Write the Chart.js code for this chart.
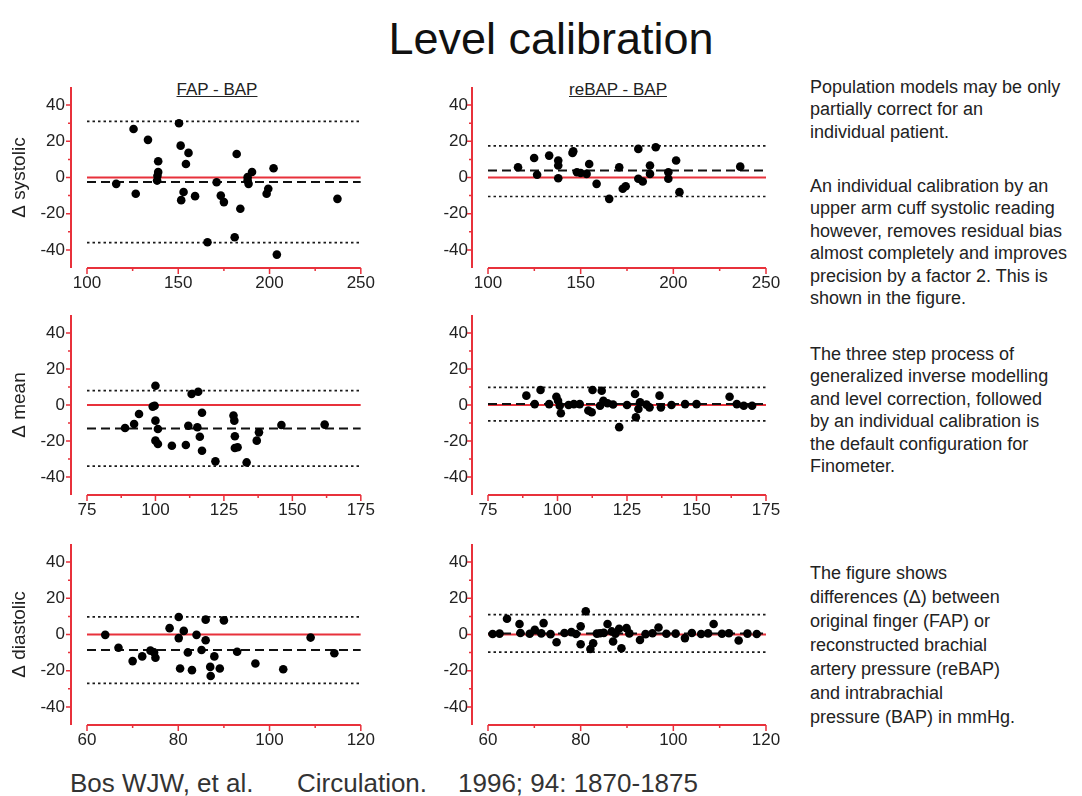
<!DOCTYPE html>
<html><head><meta charset="utf-8">
<script src="https://cdn.jsdelivr.net/npm/chart.js@4.4.1/dist/chart.umd.min.js"></script>
<style>
html,body{margin:0;padding:0;background:#fff;}
body{width:1082px;height:796px;position:relative;overflow:hidden;font-family:"Liberation Sans",Arial,sans-serif;color:#1a1a1a;}
canvas{position:absolute;}
.t{position:absolute;white-space:nowrap;line-height:1;}
.p{position:absolute;white-space:nowrap;left:810px;font-size:18px;line-height:22.5px;color:#222;}
</style></head><body>
<div class="t" style="left:0;width:1102px;text-align:center;top:16px;font-size:45px;color:#111;">Level calibration</div>
<div class="t" style="left:117px;width:200px;text-align:center;top:81px;font-size:17px;text-decoration:underline;color:#222;">FAP - BAP</div>
<div class="t" style="left:518px;width:200px;text-align:center;top:81px;font-size:17px;text-decoration:underline;color:#222;">reBAP - BAP</div>

<div class="p" style="top:75.5px;">Population models may be only<br>partially correct for an<br>individual patient.</div>
<div class="p" style="top:174.5px;">An individual calibration by an<br>upper arm cuff systolic reading<br>however, removes residual bias<br>almost completely and improves<br>precision by a factor 2. This is<br>shown in the figure.</div>
<div class="p" style="top:342.5px;">The three step process of<br>generalized inverse modelling<br>and level correction, followed<br>by an individual calibration is<br>the default configuration for<br>Finometer.</div>
<div class="p" style="top:561px;line-height:24px;">The figure shows<br>differences (Δ) between<br>original finger (FAP) or<br>reconstructed brachial<br>artery pressure (reBAP)<br>and intrabrachial<br>pressure (BAP) in mmHg.</div>

<div class="t" style="left:70px;top:770px;font-size:26px;color:#333;">Bos WJW, et al.</div>
<div class="t" style="left:297px;top:770px;font-size:26px;color:#333;">Circulation.</div>
<div class="t" style="left:458px;top:770px;font-size:26px;color:#333;">1996; 94: 1870-1875</div>

<script>
// ---------- DATA ----------
const yTicks = [-40, -20, 0, 20, 40];
const yMinorTicks = [-30, -10, 10, 30];
const yRange = [-50, 50];

const sysRange = [100, 250];
const sysTicks = [100, 150, 200, 250];
const sysMinor = [125, 175, 225];
const meanRange = [75, 175];
const meanTicks = [75, 100, 125, 150, 175];
const meanMinor = [87.5, 112.5, 137.5, 162.5];
const diaRange = [60, 120];
const diaTicks = [60, 80, 100, 120];
const diaMinor = [70, 90, 110];

const yTitles = ['\u0394 systolic', '\u0394 mean', '\u0394 diastolic'];
const colTitles = ['FAP - BAP', 'reBAP - BAP'];

// systolic, FAP - BAP
const sysFapX = [116,125.5,126.7,133.4,139,139,138.6,138.4,150.4,151.3,155.6,154.2,152.9,151.6,159.2,166,171,173.3,175,182,180.9,184,188,188,188.5,190.4,198.4,199.3,202.2,204,237.2];
const sysFapY = [-3.5,26.8,-9,20.8,9,3,1,-1.7,30,17.6,13.6,7.5,-8,-12.5,-10.3,-35.8,-2.6,-10,-13.6,13,-33,-17.3,-1.7,0.2,-3.5,3,-9,-6.2,5.1,-42.6,-11.8];
const sysFapLines = {mean: -2.5, upper: 31, lower: -36};

// systolic, reBAP - BAP
const sysReX = [116.2,124.9,126.5,133,137.9,137.9,137.9,145.6,146,148,150,154.6,153.2,158.6,165.4,170.8,172.7,174.3,181.1,181.1,183.5,187.4,187.4,190.5,197.3,197.3,201.5,203.3,236.1];
const sysReY = [5.7,10.8,1.5,12.1,9.4,6.6,-0.4,13.6,14.5,2.9,2.5,7.5,2,-3.5,-11.8,5.7,-6.2,-4.8,15.8,-0.7,-2.2,6.6,2,16.7,-0.7,2.9,9.4,-8.1,6];
const sysReLines = {mean: 3.8, upper: 17.5, lower: -10.5};

// mean, FAP - BAP
const meanFapX = [88.9,92.2,94,99,99.7,100,100,100.9,100,100.9,106,111.1,112,113.2,115.6,115.3,116.2,117,117,121.9,128.5,128.8,129,129,130,133.3,137,137.8,146,161.8];
const meanFapY = [-12.8,-10.6,-5,-0.9,-0.4,10.7,-8.7,-13.3,-19.8,-21.7,-22.6,-22.2,-11.5,6.1,7.4,-12.4,-17.6,-4.3,-25.4,-31.3,-5.9,-8.7,-17.4,-23.9,-23.5,-31.9,-19.8,-15.2,-11.1,-10.9];
const meanFapLines = {mean: -13, upper: 8, lower: -34};

// mean, reBAP - BAP
const meanReX = [88.8,91.8,93.9,99.6,100.2,100.8,101.2,105.9,111.1,112.3,112.6,115.9,115.3,116.5,122.2,127.9,128.2,129.1,129.7,133.1,136.7,137.2,145.9,161.9,164.5,167,170,97,104,108,120,125,141,150,118,132];
const meanReY = [5.2,0.5,8.3,4.6,2.4,-0.4,-4.6,0.5,-3.1,-4,8.3,7.9,-0.4,2.4,-12.3,6.1,-6.8,-2.2,1.5,-1.3,5.2,-1.3,0.5,4.6,0.5,-0.4,-0.4,0.5,0,0.5,0.3,0,0,0.5,1,0.2];
const meanReLines = {mean: 0.5, upper: 9.8, lower: -8.8};

// diastolic, FAP - BAP
const diaFapX = [64,66.9,70,72.1,73.9,74.7,75,78.1,80.1,80.1,80.4,81.2,82.1,83,84,85.1,86,86,87,87.1,87.9,89.1,90,92.9,96.9,103,109,114.2];
const diaFapY = [-0.2,-7.3,-14.7,-12.1,-8.9,-9.9,-12.8,3.5,9.7,-2,-18.8,2,-9.9,-19.7,-0.2,-8.6,8.2,-3.2,-17.9,-22.9,-12.1,-18.8,7.8,-9.5,-16,-19.2,-1.7,-10.4];
const diaFapLines = {mean: -8.5, upper: 9.7, lower: -27};

// diastolic, reBAP - BAP
const diaReX = [64.1,66.8,70.1,72,74.8,78,80,80,81.1,82.1,82.7,84.2,85.8,86.7,87,88.3,88.8,89.9,92.8,96.8,102.5,108.7,114.1,61,62.5,67,69,71.5,73.5,76.5,79,83.5,85,87.5,90.5,94,95.5,98.5,100.5,104,106,107.5,110.5,112,116,118];
const diaReY = [8.7,5.8,2.6,6.3,-4.3,1.3,4.5,-5.4,12.8,-8,-4.8,0.7,5.8,1.7,-3.9,3.2,-7.6,3.5,-3,3.9,-2,5.8,-3.3,0.3,0.5,0.8,0.4,0.6,0.2,0.8,0.3,0.5,0.9,0.4,0.6,0.2,0.7,0.4,0.5,0.8,0.3,0.6,0.4,0.7,0.5,0.3];
const diaReLines = {mean: 0.5, upper: 11, lower: -9.7};

// ---------- STYLE / LAYOUT ----------
const RED = '#e8313b';
const FONT = '"Liberation Sans", Arial, sans-serif';
const cols = [
  {canvasLeft: 0, plotLeft: 87, plotRight: 364, width: 380, axisX: 71, labelPad: 22},
  {canvasLeft: 420, plotLeft: 488, plotRight: 766, width: 370, axisX: 472, labelPad: 20}
];
const rows = [
  {top: 87, bottom: 268},
  {top: 315, bottom: 495},
  {top: 544, bottom: 725}
];
const panels = [
  {r:0,c:0,x:sysFapX,y:sysFapY,lines:sysFapLines,range:sysRange,ticks:sysTicks,minor:sysMinor},
  {r:0,c:1,x:sysReX,y:sysReY,lines:sysReLines,range:sysRange,ticks:sysTicks,minor:sysMinor},
  {r:1,c:0,x:meanFapX,y:meanFapY,lines:meanFapLines,range:meanRange,ticks:meanTicks,minor:meanMinor},
  {r:1,c:1,x:meanReX,y:meanReY,lines:meanReLines,range:meanRange,ticks:meanTicks,minor:meanMinor},
  {r:2,c:0,x:diaFapX,y:diaFapY,lines:diaFapLines,range:diaRange,ticks:diaTicks,minor:diaMinor},
  {r:2,c:1,x:diaReX,y:diaReY,lines:diaReLines,range:diaRange,ticks:diaTicks,minor:diaMinor}
];

const axisPlugin = {
  id: 'offsetAxes',
  afterDraw(chart, args, o) {
    const {ctx, chartArea: a, scales: {x, y}} = chart;
    const ax = a.left - o.gap;
    ctx.save();
    ctx.strokeStyle = RED;
    ctx.lineWidth = 2;
    ctx.beginPath();
    ctx.moveTo(ax, y.getPixelForValue(y.min));
    ctx.lineTo(ax, y.getPixelForValue(y.max));
    ctx.stroke();
    ctx.lineWidth = 1.5;
    ctx.beginPath();
    yTicks.forEach(v => { const p = y.getPixelForValue(v); ctx.moveTo(ax, p); ctx.lineTo(ax - 5, p); });
    yMinorTicks.forEach(v => { const p = y.getPixelForValue(v); ctx.moveTo(ax, p); ctx.lineTo(ax - 3, p); });
    ctx.stroke();
    ctx.lineWidth = 2;
    const by = a.bottom;
    ctx.beginPath();
    ctx.moveTo(x.getPixelForValue(x.min), by);
    ctx.lineTo(x.getPixelForValue(x.max), by);
    ctx.stroke();
    ctx.lineWidth = 1.5;
    ctx.beginPath();
    o.xMajor.forEach(v => { const p = x.getPixelForValue(v); ctx.moveTo(p, by); ctx.lineTo(p, by + 6); });
    o.xMinor.forEach(v => { const p = x.getPixelForValue(v); ctx.moveTo(p, by); ctx.lineTo(p, by + 3); });
    ctx.stroke();
    ctx.restore();
  }
};

panels.forEach(pn => {
  const col = cols[pn.c], row = rows[pn.r];
  const PT = 36;
  const cTop = row.top - PT, cBottom = row.bottom + 34;
  const cv = document.createElement('canvas');
  cv.width = col.width; cv.height = cBottom - cTop;
  cv.style.left = col.canvasLeft + 'px'; cv.style.top = cTop + 'px';
  cv.style.width = col.width + 'px'; cv.style.height = (cBottom - cTop) + 'px';
  document.body.appendChild(cv);
  const pts = pn.x.map((v, i) => ({x: v, y: pn.y[i]}));
  const hline = v => [{x: pn.range[0], y: v}, {x: pn.range[1], y: v}];
  const showTitle = pn.c === 0;
  new Chart(cv, {
    type: 'scatter',
    data: {datasets: [
      {data: pts, backgroundColor: '#000', borderColor: '#000', pointRadius: 4.3, pointBorderWidth: 0, pointHoverRadius: 4.3},
      {type: 'line', data: hline(pn.lines.mean), borderColor: '#111', borderWidth: 2, borderDash: [9, 5], pointRadius: 0, fill: false},
      {type: 'line', data: hline(pn.lines.upper), borderColor: '#1a1a1a', borderWidth: 1.7, borderDash: [2.5, 3], pointRadius: 0, fill: false},
      {type: 'line', data: hline(pn.lines.lower), borderColor: '#1a1a1a', borderWidth: 1.7, borderDash: [2.5, 3], pointRadius: 0, fill: false},
      {type: 'line', data: hline(0), borderColor: RED, borderWidth: 2, pointRadius: 0, fill: false}
    ]},
    options: {
      responsive: false, animation: false, devicePixelRatio: 1,
      layout: {padding: {left: 0, top: PT, right: col.width - (col.plotRight - col.canvasLeft), bottom: 0}},
      plugins: {legend: {display: false}, tooltip: {enabled: false},
        offsetAxes: {gap: col.plotLeft - col.axisX, xMajor: pn.ticks, xMinor: pn.minor}},
      scales: {
        x: {type: 'linear', min: pn.range[0], max: pn.range[1],
          grid: {display: false, drawTicks: false}, border: {display: false},
          afterBuildTicks: s => { s.ticks = pn.ticks.map(v => ({value: v})); },
          afterFit: s => { s.height = 34; },
          ticks: {autoSkip: false, maxRotation: 0, padding: 5, color: '#222', font: {family: FONT, size: 17}}},
        y: {type: 'linear', min: yRange[0], max: yRange[1],
          grid: {display: false, drawTicks: false}, border: {display: false},
          afterBuildTicks: s => { s.ticks = yTicks.map(v => ({value: v})); },
          afterFit: s => { s.width = col.plotLeft - col.canvasLeft; },
          ticks: {padding: col.labelPad, color: '#222', font: {family: FONT, size: 17}},
          title: {display: showTitle, text: yTitles[pn.r], color: '#222', font: {family: FONT, size: 19}, padding: {top: 8, bottom: 0}}}
      }
    },
    plugins: [axisPlugin]
  });
});
</script>
</body></html>
